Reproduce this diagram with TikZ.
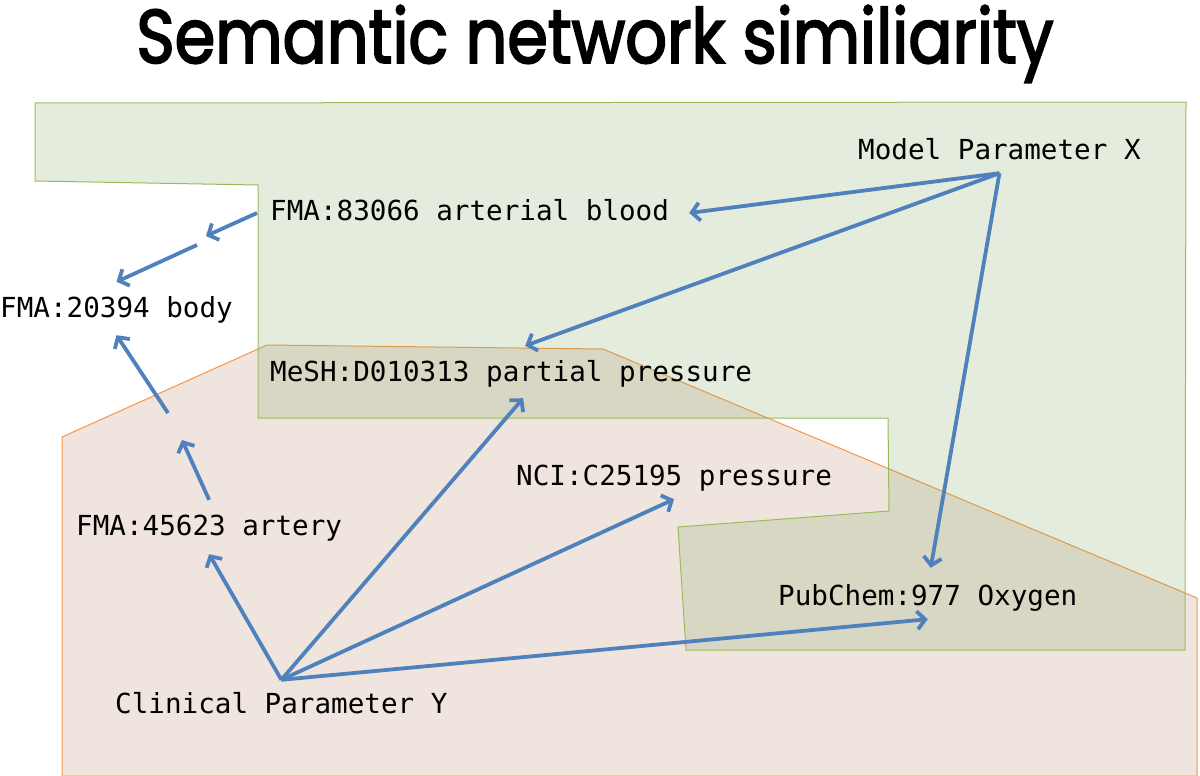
\documentclass[tikz,border=0pt]{standalone}
\usepackage{fontspec}
\newfontfamily\termfont{DejaVu Sans Mono}
\newfontfamily\titlefont[FakeStretch=0.86,FakeBold=2.4]{Poppins}
\usetikzlibrary{arrows.meta,positioning}

\definecolor{linkblue}{RGB}{79,129,189}
\definecolor{modelgreen}{RGB}{155,187,89}
\definecolor{modelfill}{RGB}{125,165,95}
\definecolor{clinorange}{RGB}{247,150,70}
\definecolor{clinfill}{RGB}{218,190,172}

\begin{document}
\begin{tikzpicture}[
    x=1pt, y=-1pt,
    term/.style={
        font=\termfont\fontsize{27.6}{33}\selectfont,
        inner sep=8pt,
        text height=20pt,
        text depth=6pt,
        anchor=base west,
        },
    link/.style={
        draw=linkblue,
        line width=3.8pt,
        -{Straight Barb[length=8pt,width=18pt]},
        },
    clinregion/.style={
        draw=clinorange,
        line width=1pt,
        fill=clinfill,
        fill opacity=0.4,
        },
    modelregion/.style={
        draw=modelgreen,
        line width=1pt,
        fill=modelfill,
        fill opacity=0.21,
        },
]

\useasboundingbox (0,0) rectangle (1200,776);

% regions
\draw[clinregion] (62,437) -- (267,345) -- (603,349) -- (1197,598)
    -- (1197,776) -- (62,776) -- cycle;
\draw[modelregion] (35,103) -- (1186,102) -- (1185,650) -- (686,650)
    -- (678,527) -- (889,511) -- (888,418) -- (258,418) -- (258,185)
    -- (35,181) -- cycle;

\node[font=\titlefont\fontsize{76}{86}\selectfont, anchor=base] (title) at (595,63)
    {Semantic network similiarity};

% terms
\node[term] (mpx)    at (850,159) {Model Parameter X};
\node[term] (blood)  at (262,220) {FMA:83066 arterial blood};
\node[term] (body)   at (-8,317)  {FMA:20394 body};
\node[term] (mesh)   at (262,381) {MeSH:D010313 partial pressure};
\node[term] (nci)    at (508,485) {NCI:C25195 pressure};
\node[term] (artery) at (68,535)  {FMA:45623 artery};
\node[term] (oxy)    at (770,605) {PubChem:977 Oxygen};
\node[term] (clin)   at (107,713) {Clinical Parameter Y};

\coordinate (g1) at (206,236);
\coordinate (g2) at (197,245);
\coordinate (g3) at (182,440);
\coordinate (g4) at (168,413);

% links
\draw[link] (mpx.south) -- ([xshift=12pt]blood.east);
\draw[link] (mpx.south) -- ([xshift=14pt,yshift=7pt]mesh.north);
\draw[link] (mpx.south) -- ([xshift=3pt,yshift=9pt]oxy.north);

\draw[link] ([xshift=-5pt]blood.west) -- (g1);
\draw[link] (g2) -- ([yshift=7pt]body.north);
\draw[link] (g4) -- ([yshift=-4pt]body.south);
\draw[link] ([yshift=7pt]artery.north) -- (g3);

\draw[link] ([yshift=5pt]clin.north) -- ([yshift=-5pt]artery.south);
\draw[link] ([yshift=5pt]clin.north) -- ([xshift=12pt,yshift=-3pt]mesh.south);
\draw[link] ([yshift=5pt]clin.north) -- (nci.south);
\draw[link] ([yshift=5pt]clin.north) -- (oxy.south);

\end{tikzpicture}
\end{document}
